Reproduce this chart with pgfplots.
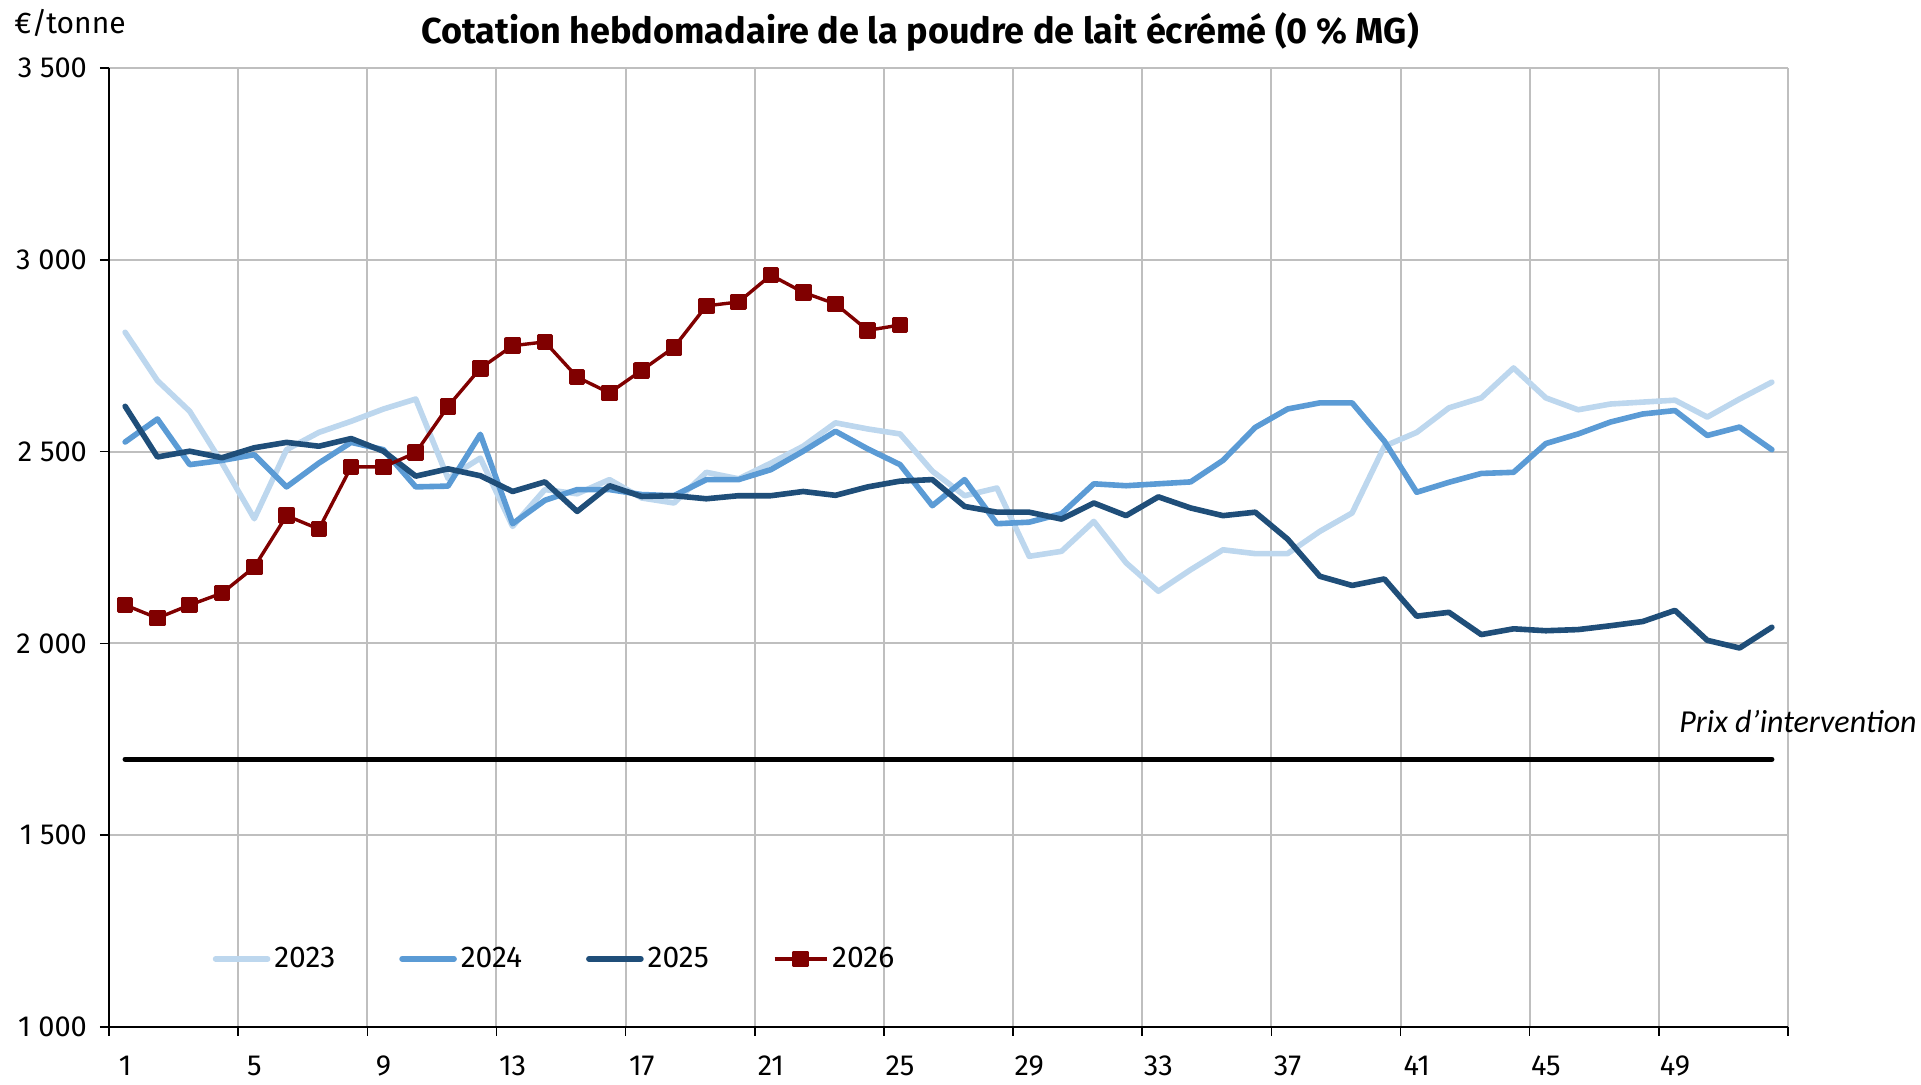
\documentclass[border=0pt]{standalone}
\usepackage{pgfplots}
\pgfplotsset{compat=1.18}
\usepackage{pgfplotstable}
\usepackage{fontspec}
\setmainfont{Fira Sans}
\newfontfamily\calibri{Carlito}
\definecolor{c23}{HTML}{BDD7EE}
\definecolor{c24}{HTML}{5B9BD5}
\definecolor{c25}{HTML}{1F4E79}
\definecolor{c26}{HTML}{800000}
\definecolor{gridc}{HTML}{BFBFBF}

\pgfplotstableread{
w v
1 2811
2 2685
3 2605
4 2470
5 2325
6 2505
7 2550
8 2579
9 2611
10 2637
11 2430
12 2483
13 2305
14 2401
15 2390
16 2427
17 2379
18 2366
19 2446
20 2429
21 2470
22 2514
23 2575
24 2559
25 2546
26 2449
27 2385
28 2405
29 2227
30 2240
31 2318
32 2210
33 2136
34 2192
35 2244
36 2234
37 2234
38 2292
39 2340
40 2514
41 2550
42 2614
43 2640
44 2718
45 2640
46 2609
47 2624
48 2629
49 2634
50 2590
51 2637
52 2681
}\tabA

\pgfplotstableread{
w v
1 2525
2 2585
3 2466
4 2477
5 2492
6 2408
7 2470
8 2524
9 2505
10 2408
11 2410
12 2545
13 2312
14 2373
15 2401
16 2401
17 2388
18 2385
19 2427
20 2427
21 2453
22 2501
23 2553
24 2507
25 2466
26 2359
27 2427
28 2312
29 2316
30 2338
31 2416
32 2411
33 2416
34 2421
35 2477
36 2563
37 2611
38 2627
39 2627
40 2527
41 2394
42 2420
43 2443
44 2446
45 2521
46 2546
47 2577
48 2598
49 2607
50 2542
51 2564
52 2505
}\tabB

\pgfplotstableread{
w v
1 2618
2 2486
3 2501
4 2484
5 2510
6 2524
7 2514
8 2534
9 2501
10 2436
11 2455
12 2437
13 2396
14 2421
15 2344
16 2411
17 2383
18 2385
19 2377
20 2385
21 2385
22 2396
23 2386
24 2408
25 2423
26 2427
27 2357
28 2342
29 2342
30 2324
31 2366
32 2333
33 2382
34 2353
35 2333
36 2342
37 2272
38 2175
39 2151
40 2168
41 2071
42 2081
43 2023
44 2038
45 2033
46 2036
47 2046
48 2057
49 2086
50 2008
51 1988
52 2042
}\tabC

\pgfplotstableread{
w v
1 2100
2 2066
3 2100
4 2131
5 2199
6 2333
7 2298
8 2460
9 2460
10 2497
11 2618
12 2717
13 2776
14 2786
15 2694
16 2653
17 2712
18 2772
19 2880
20 2890
21 2960
22 2915
23 2885
24 2816
25 2830
}\tabD

\begin{document}
\begin{tikzpicture}
\begin{axis}[
  at={(54.5pt,29pt)}, anchor=south west,
  scale only axis, width=839.5pt, height=479.5pt,
  xmin=0.5, xmax=52.5, ymin=1000, ymax=3500,
  axis x line*=bottom, axis y line*=left,
  axis line style={black, line width=1pt, -},
  xtick={0.5,4.5,...,52.5}, xticklabels={},
  extra x ticks={1,5,...,49},
  extra x tick labels={1,5,9,13,17,21,25,29,33,37,41,45,49},
  extra x tick style={grid=none, major tick length=0pt},
  ytick={1000,1500,...,3500},
  yticklabels={1~000,1~500,2~000,2~500,3~000,3~500},
  grid=major, major grid style={gridc, line width=1pt},
  tick align=outside, major tick length=4.5pt,
  tick style={black, line width=0.75pt},
  ticklabel style={font=\fontsize{14.5}{17}\selectfont},
  xticklabel style={yshift=-11pt},
  yticklabel style={xshift=-3pt},
  legend columns=4,
  legend style={at={(rel axis cs:0.058,0.071)}, anchor=west, draw=none, fill=none,
    font=\fontsize{15}{18}\selectfont,
    /tikz/every even column/.append style={column sep=30pt}},
  legend image code/.code={\draw[mark repeat=2,mark phase=2,#1] plot coordinates {(0pt,0pt) (13pt,0pt) (26pt,0pt)};},
  every axis plot/.append style={line join=round},
]
\addplot[black, line width=2.6pt, line cap=round, forget plot] coordinates {(1,1698) (52,1698)};
\addplot[c23, line width=2.8pt, line cap=round] table[x=w,y=v] {\tabA};
\addlegendentry{2023}
\addplot[c24, line width=2.8pt, line cap=round] table[x=w,y=v] {\tabB};
\addlegendentry{2024}
\addplot[c25, line width=2.8pt, line cap=round] table[x=w,y=v] {\tabC};
\addlegendentry{2025}
\addplot[c26, line width=1.7pt, mark=square*, mark size=3.3pt, mark options={solid, fill=c26, draw=c26}] table[x=w,y=v] {\tabD};
\addlegendentry{2026}
\end{axis}
\node[font=\fontsize{18}{21}\selectfont\bfseries] at (460pt,526.5pt) {Cotation hebdomadaire de la poudre de lait écrémé (0~\% MG)};
\node[font=\fontsize{15}{18}\selectfont] at (35pt,531pt) {€/tonne};
\node[font=\calibri\itshape\fontsize{16}{19}\selectfont, anchor=east, inner sep=0pt] at (958.5pt,181.7pt) {Prix d’intervention};
\pgfresetboundingbox
\useasboundingbox (0pt,0pt) rectangle (960.5pt,542.5pt);
\end{tikzpicture}
\end{document}
